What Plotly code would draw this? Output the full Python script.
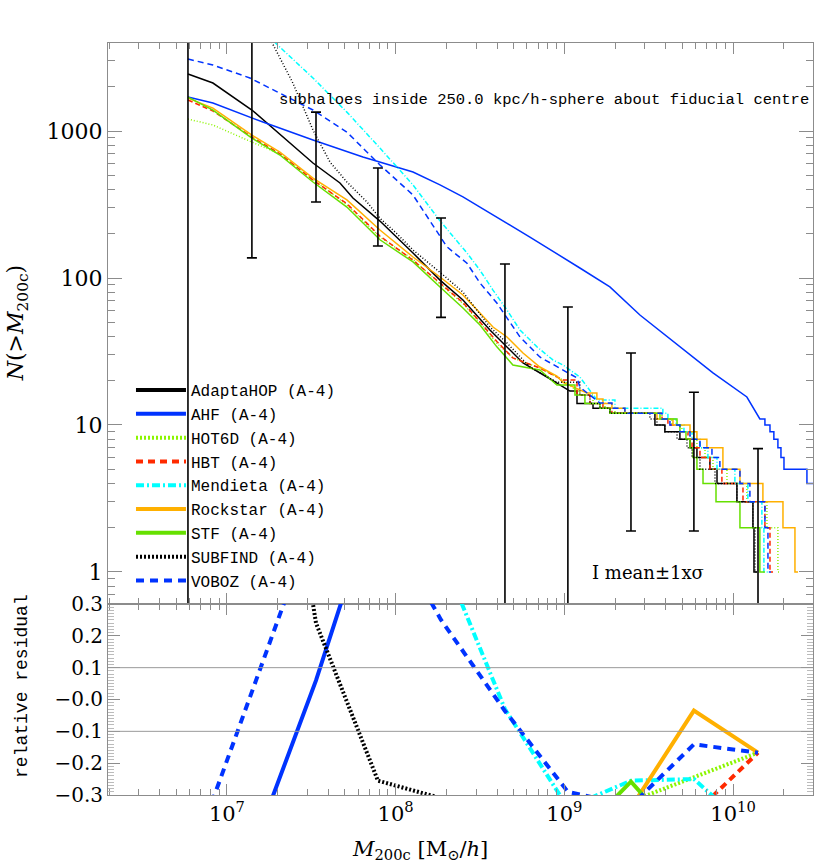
import plotly.graph_objects as go
import numpy as np

# ---- top panel: cumulative subhalo mass functions N(>M200c) ----
# smooth part: log10(M200c [Msun/h]) and N; step part: masses where N drops and N after the drop
ADAPTAHOP_LOGM = [6.769, 6.917, 7.148, 7.237, 7.391, 7.510, 7.670, 7.747, 7.907, 8.103, 8.263, 8.399,
                  8.559, 8.660, 8.755, 8.897, 8.992, 9.033]
ADAPTAHOP_N = [2445, 2122, 1390, 1133, 803, 606, 443, 350, 244, 148, 96.8, 70.8, 44.3, 33.9, 26.4, 21.2, 18.1, 17]
ADAPTAHOP_STEP_LOGM = [9.075, 9.170, 9.270, 9.537, 9.596, 9.685, 9.745, 9.786, 9.863, 9.905, 10.023, 10.118,
                       10.124, 10.142]
ADAPTAHOP_STEP_N = [14, 13, 12, 10, 9, 8, 7, 6, 5, 4, 3, 2, 1, 1]

AHF_LOGM = [6.769, 6.917, 7.213, 7.510, 7.806, 8.103, 8.263, 8.399, 8.500, 8.796, 9.092, 9.270, 9.448,
            9.685, 9.881, 10.082, 10.159]
AHF_N = [1703, 1550, 1151, 869, 666, 526, 430, 356, 304, 190, 117, 86.9, 56, 34, 22.6, 15.5, 11]
AHF_STEP_LOGM = [10.189, 10.219, 10.242, 10.266, 10.284, 10.302, 10.438, 10.6]
AHF_STEP_N = [10, 9, 8, 7, 6, 5, 4, 4]

HOT6D_LOGM = [6.769, 6.917, 7.148, 7.314, 7.510, 7.711, 7.907, 8.103, 8.263, 8.399, 8.500, 8.600, 8.695,
              8.855, 8.992, 9.075]
HOT6D_N = [1207, 1099, 841, 698, 470, 315, 190, 134, 91, 67, 49.4, 36, 28.6, 24.4, 20.2, 17]
HOT6D_STEP_LOGM = [9.092, 9.170, 9.241, 9.300, 9.579, 9.638, 9.697, 9.745, 9.786, 9.834, 9.881, 9.964,
                   10.082, 10.201, 10.266, 10.284]
HOT6D_STEP_N = [16, 14, 13, 12, 11, 10, 9, 8, 7, 6, 5, 4, 3, 2, 1, 1]

HBT_LOGM = [6.769, 6.917, 7.148, 7.314, 7.510, 7.711, 7.907, 8.103, 8.263, 8.399, 8.500, 8.600, 8.695,
            8.855, 8.992]
HBT_N = [1625, 1370, 910, 700, 464, 320, 193, 132, 92.5, 68, 50.2, 37, 28.6, 24.4, 20.2]
HBT_STEP_LOGM = [9.075, 9.152, 9.229, 9.282, 9.579, 9.614, 9.685, 9.733, 9.757, 9.804, 9.863, 9.934,
                 10.059, 10.189, 10.219, 10.237]
HBT_STEP_N = [16, 14, 13, 12, 11, 10, 9, 8, 7, 6, 5, 4, 3, 2, 1, 1]

MENDIETA_LOGM = [6.769, 7.285, 7.510, 7.711, 7.907, 8.103, 8.263, 8.423, 8.500, 8.577, 8.660, 8.737,
                 8.838, 8.932, 8.992, 9.092, 9.193]
MENDIETA_N = [15000, 4000, 2296, 1345, 766, 430, 245, 148, 113, 82.8, 60.5, 44.3, 34, 27.7, 25.6, 21.2, 14.8]
MENDIETA_STEP_LOGM = [9.300, 9.584, 9.614, 9.662, 9.709, 9.757, 9.804, 9.851, 9.905, 10.011, 10.088,
                      10.171, 10.183, 10.207]
MENDIETA_STEP_N = [13, 12, 11, 10, 9, 8, 7, 6, 5, 4, 3, 2, 1, 1]

ROCKSTAR_LOGM = [6.769, 6.917, 7.148, 7.314, 7.510, 7.711, 7.907, 8.103, 8.263, 8.399, 8.500, 8.577,
                 8.660, 8.755, 8.855, 8.956, 8.992, 9.134]
ROCKSTAR_N = [1675, 1433, 939, 720, 479, 340, 212, 139, 101.6, 76.6, 57.8, 46.4, 39.7, 30.9, 24.8, 21.5,
              19.5, 16.5]
ROCKSTAR_STEP_LOGM = [9.193, 9.229, 9.282, 9.359, 9.549, 9.644, 9.745, 9.786, 9.845, 9.940, 10.041,
                      10.177, 10.296, 10.367, 10.385]
ROCKSTAR_STEP_N = [15, 14, 13, 12, 11, 10, 9, 8, 7, 5, 4, 3, 2, 1, 1]

STF_LOGM = [6.769, 6.917, 7.148, 7.314, 7.510, 7.711, 7.907, 8.103, 8.263, 8.399, 8.500, 8.600, 8.695,
            8.855, 8.956]
STF_N = [1703, 1390, 896, 687, 450, 304, 182, 128.6, 86.9, 62.5, 47.9, 34.0, 25.6, 23.7, 18.7]
STF_STEP_LOGM = [9.063, 9.122, 9.211, 9.270, 9.567, 9.668, 9.685, 9.721, 9.745, 9.763, 9.786, 9.822,
                 9.899, 10.041, 10.159, 10.189]
STF_STEP_N = [16, 14, 13, 12, 11, 10, 9, 8, 7, 6, 5, 4, 3, 2, 1, 1]

SUBFIND_LOGM = [6.769, 7.267, 7.391, 7.510, 7.611, 7.711, 7.830, 7.907, 8.008, 8.103, 8.281, 8.399,
                8.559, 8.660, 8.796, 8.956]
SUBFIND_N = [30000, 4000, 2122, 1016, 615, 450, 329, 255, 200, 155, 105, 80.3, 46.4, 36.1, 24.8, 19.5]
SUBFIND_STEP_LOGM = [9.092, 9.152, 9.211, 9.270, 9.507, 9.549, 9.596, 9.668, 9.727, 9.757, 9.804, 9.893,
                     10.023, 10.118, 10.130, 10.142]
SUBFIND_STEP_N = [16, 14, 13, 12, 11, 10, 9, 8, 7, 6, 5, 4, 3, 2, 1, 1]

VOBOZ_LOGM = [6.769, 6.917, 7.136, 7.510, 7.711, 7.907, 8.103, 8.263, 8.304, 8.423, 8.500, 8.600, 8.737,
              8.855, 9.075, 9.092, 9.211]
VOBOZ_N = [3090, 2812, 2296, 1390, 984, 588, 367, 190, 163, 126, 92.5, 67.6, 39.7, 29.0, 20.9, 18.1, 14.1]
VOBOZ_STEP_LOGM = [9.282, 9.359, 9.579, 9.626, 9.685, 9.745, 9.804, 9.875, 9.922, 10.041, 10.100,
                   10.189, 10.207, 10.225]
VOBOZ_STEP_N = [13, 12, 11, 10, 9, 8, 7, 6, 5, 4, 3, 2, 1, 1]

# mean +/- 1 sigma over all finders, at the residual mass bins
BIN_LOGM = [6.769, 7.148, 7.528, 7.895, 8.269, 8.648, 9.021, 9.395, 9.768, 10.148]
MEAN_N = [4500, 2300, 837, 362.5, 155, 62, 31, 16.4, 9.3, 3.4]
SIGMA_N = [6000, 2163, 508, 197.5, 101, 62.5, 32.5, 14.5, 7.4, 3.5]

# ---- bottom panel: relative residual (N - mean) / mean at the bins ----
AHF_RES = [-0.60, -0.48, 0.06, 0.66, 1.8, 1.9, 2.7, 2.2, 2.5, 2.0]
HOT6D_RES = [-0.73, -0.64, -0.53, -0.48, -0.42, -0.35, -0.40, -0.32, -0.245, -0.167]
HBT_RES = [-0.64, -0.60, -0.46, -0.47, -0.41, -0.38, -0.36, -0.33, -0.36, -0.167]
MENDIETA_RES = [2.3, 1.2, 1.5, 1.1, 0.46, -0.03, -0.34, -0.255, -0.25, -0.43]
ROCKSTAR_RES = [-0.63, -0.59, -0.43, -0.41, -0.35, -0.36, -0.37, -0.34, -0.035, -0.167]
STF_RES = [-0.62, -0.61, -0.46, -0.50, -0.44, -0.45, -0.46, -0.258, -0.48, -0.50]
SUBFIND_RES = [5.0, 1.5, 0.24, -0.255, -0.31, -0.40, -0.45, -0.42, -0.40, -0.35]
VOBOZ_RES = [-0.53, 0.02, 0.58, 0.60, 0.25, -0.036, -0.29, -0.334, -0.141, -0.167]

X_TICKS = [1e7, 1e8, 1e9, 1e10]
X_TICKTEXT = ["10<sup>7</sup>", "10<sup>8</sup>", "10<sup>9</sup>", "10<sup>10</sup>"]
Y_TICKS = [1, 10, 100, 1000]
Y_TICKTEXT = ["1", "10", "100", "1000"]
RES_TICKS = [0.3, 0.2, 0.1, 0.0, -0.1, -0.2, -0.3]
RES_TICKTEXT = ["0.3", "0.2", "0.1", "\u22120.0", "\u22120.1", "\u22120.2", "\u22120.3"]

# name, smooth, steps, residual, colour, thin dash, thick dash
finders = [
    ("AdaptaHOP (A-4)", ADAPTAHOP_LOGM, ADAPTAHOP_N, ADAPTAHOP_STEP_LOGM, ADAPTAHOP_STEP_N, None,
     "black", "solid", "solid"),
    ("AHF (A-4)", AHF_LOGM, AHF_N, AHF_STEP_LOGM, AHF_STEP_N, AHF_RES, "#0033ff", "solid", "solid"),
    ("HOT6D (A-4)", HOT6D_LOGM, HOT6D_N, HOT6D_STEP_LOGM, HOT6D_STEP_N, HOT6D_RES,
     "#8cf500", "1px,2px", "2px,2px"),
    ("HBT (A-4)", HBT_LOGM, HBT_N, HBT_STEP_LOGM, HBT_STEP_N, HBT_RES, "#ff2a00", "5px,3px", "7px,5px"),
    ("Mendieta (A-4)", MENDIETA_LOGM, MENDIETA_N, MENDIETA_STEP_LOGM, MENDIETA_STEP_N, MENDIETA_RES,
     "#00ffff", "5px,2px,1px,2px", "8px,3px,2px,3px"),
    ("Rockstar (A-4)", ROCKSTAR_LOGM, ROCKSTAR_N, ROCKSTAR_STEP_LOGM, ROCKSTAR_STEP_N, ROCKSTAR_RES,
     "#ffb000", "solid", "solid"),
    ("STF (A-4)", STF_LOGM, STF_N, STF_STEP_LOGM, STF_STEP_N, STF_RES, "#66e000", "solid", "solid"),
    ("SUBFIND (A-4)", SUBFIND_LOGM, SUBFIND_N, SUBFIND_STEP_LOGM, SUBFIND_STEP_N, SUBFIND_RES,
     "black", "1px,2px", "2px,2px"),
    ("VOBOZ (A-4)", VOBOZ_LOGM, VOBOZ_N, VOBOZ_STEP_LOGM, VOBOZ_STEP_N, VOBOZ_RES,
     "#0033ff", "6px,4px", "8px,6px"),
]


def staircase(logm, n, step_logm, step_n):
    x = list(logm)
    y = list(n)
    prev = y[-1]
    for m, k in zip(step_logm, step_n):
        x += [m, m]
        y += [prev, k]
        prev = k
    return 10 ** np.array(x), y


fig = go.Figure()
bins = 10 ** np.array(BIN_LOGM)

for name, lm, n, slm, sn, res, color, dash_thin, dash_thick in finders:
    x, y = staircase(lm, n, slm, sn)
    fig.add_trace(go.Scatter(x=x, y=y, mode="lines", xaxis="x", yaxis="y", showlegend=False,
                             line=dict(color=color, width=1.5, dash=dash_thin)))
    if res is not None:
        fig.add_trace(go.Scatter(x=bins, y=res, mode="lines", xaxis="x2", yaxis="y2", showlegend=False,
                                 line=dict(color=color, width=4, dash=dash_thick)))
    # thick sample for the legend
    fig.add_trace(go.Scatter(x=[None], y=[None], mode="lines", xaxis="x", yaxis="y", name=name,
                             line=dict(color=color, width=4, dash=dash_thick)))

fig.add_trace(go.Scatter(
    x=bins, y=MEAN_N, mode="markers", xaxis="x", yaxis="y", showlegend=False,
    marker=dict(size=1, color="rgba(0,0,0,0)"),
    error_y=dict(type="data", array=SIGMA_N, symmetric=True, color="black", thickness=1.6, width=5),
))

for yv in (0.1, -0.1):
    fig.add_shape(type="line", xref="x2 domain", yref="y2", x0=0, x1=1, y0=yv, y1=yv,
                  line=dict(color="#999999", width=1))

gray = "#8c8c8c"
x_minor = [k * 10 ** e for e in range(6, 11) for k in range(2, 10)]
y_minor = [k * 10 ** e for e in range(-1, 4) for k in range(2, 10)]
axis_common = dict(showline=True, linecolor=gray, linewidth=1, mirror="allticks", ticks="inside",
                   tickcolor=gray, showgrid=False, zeroline=False)
xaxis_common = dict(type="log", range=[6.295, 10.474], tickvals=X_TICKS, ticktext=X_TICKTEXT, ticklen=11,
                    minor=dict(tickvals=x_minor, ticks="inside", ticklen=6, tickcolor=gray), **axis_common)

fig.update_layout(
    width=830, height=864,
    margin=dict(l=108, r=17, t=43, b=69),
    paper_bgcolor="white", plot_bgcolor="white",
    font=dict(family="DejaVu Serif", color="black", size=20),
    xaxis=dict(anchor="y", domain=[0, 1], showticklabels=False, **xaxis_common),
    xaxis2=dict(anchor="y2", domain=[0, 1], matches="x", tickfont=dict(size=21), **xaxis_common),
    yaxis=dict(anchor="x", domain=[0.254, 1], type="log", range=[-0.218, 3.599], tickvals=Y_TICKS,
               ticktext=Y_TICKTEXT, ticklen=14, tickfont=dict(size=22),
               minor=dict(tickvals=y_minor, ticks="inside", ticklen=7, tickcolor=gray), **axis_common),
    yaxis2=dict(anchor="x2", domain=[0, 0.254], range=[-0.3, 0.3], tickvals=RES_TICKS,
                ticktext=RES_TICKTEXT, ticklen=12, tickfont=dict(size=20),
                minor=dict(dtick=0.01, ticks="inside", ticklen=6, tickcolor="#bbbbbb"), **axis_common),
    showlegend=True,
    legend=dict(x=0.0326, y=0.561, xanchor="left", yanchor="top", bgcolor="rgba(0,0,0,0)",
                font=dict(family="Liberation Mono", size=16), itemwidth=50, tracegroupgap=0),
    annotations=[
        dict(text="subhaloes inside 250.0 kpc/h-sphere about fiducial centre", xref="paper", yref="paper",
             x=0.2397, y=0.924, xanchor="left", yanchor="middle", showarrow=False,
             font=dict(family="Liberation Mono", size=15.5)),
        dict(text="I mean\u00b11x\u03c3", xref="paper", yref="paper", x=0.6837, y=0.2965,
             xanchor="left", yanchor="middle", showarrow=False, font=dict(size=18)),
        dict(text="<i>N</i>(><i>M</i><sub>200c</sub>)", xref="paper", yref="paper", x=-0.128, y=0.627,
             xanchor="center", yanchor="middle", textangle=-90, showarrow=False, font=dict(size=22)),
        dict(text="relative residual", xref="paper", yref="paper", x=-0.122, y=0.145,
             xanchor="center", yanchor="middle", textangle=-90, showarrow=False,
             font=dict(family="Liberation Mono", size=18)),
        dict(text="<i>M</i><sub>200c</sub> [M<sub>\u2299</sub>/<i>h</i>]", xref="paper", yref="paper",
             x=0.4426, y=-0.073, xanchor="center", yanchor="middle", showarrow=False, font=dict(size=21)),
    ],
)

# the page's default body margin would shift the figure off the window
fig.write_html("out.html", config={"displayModeBar": False},
               post_script="document.body.style.margin = '0';")
